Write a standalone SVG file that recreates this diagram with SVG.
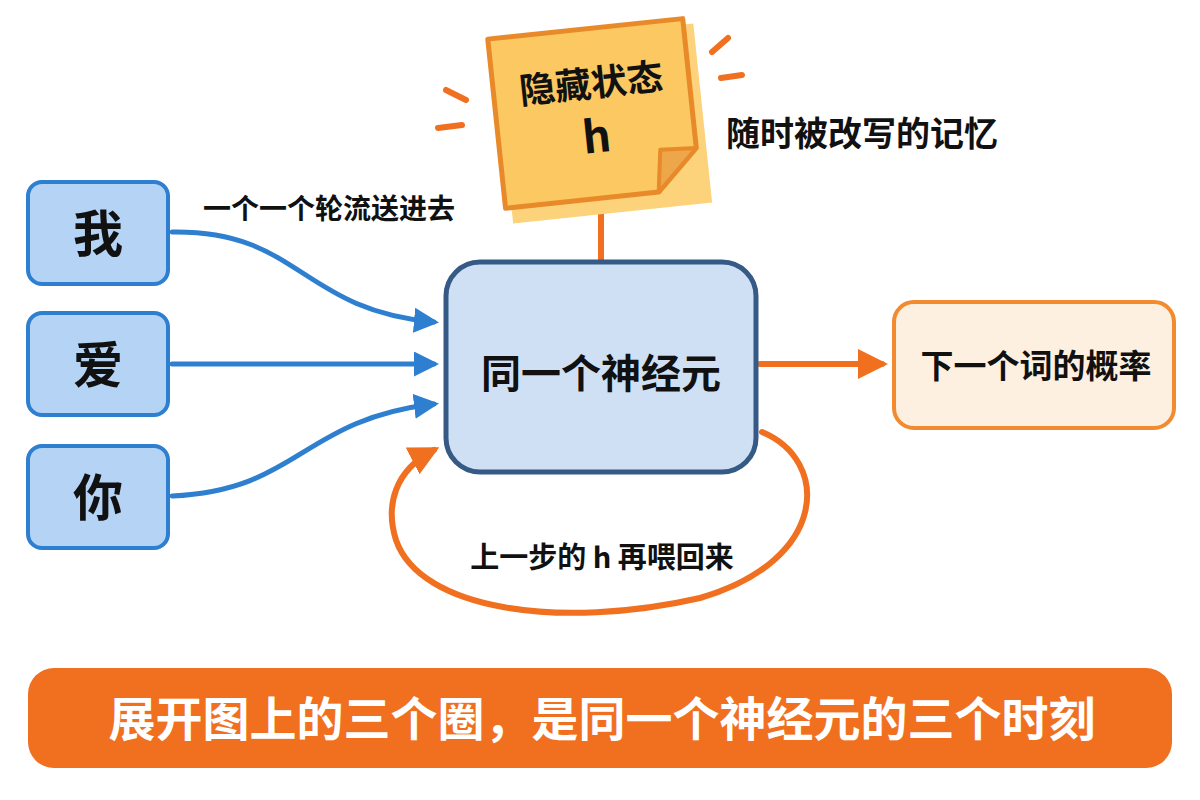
<svg xmlns="http://www.w3.org/2000/svg" width="1200" height="800" viewBox="0 0 1200 800">
<defs>
<style>
.t{font-family:"Noto Sans CJK SC","Noto Sans",sans-serif;font-weight:700;fill:#111;}
.word rect{fill:#b5d3f5;stroke:#2e7fd0;stroke-width:4;}
.blue{fill:none;stroke:#2e7fd0;stroke-width:5;stroke-linecap:round;}
.org{fill:none;stroke:#f07020;stroke-width:6;stroke-linecap:round;}
.ray{stroke:#f07020;stroke-width:6;stroke-linecap:round;}
</style>
<marker id="ab" viewBox="0 0 10 10" refX="8" refY="5" markerWidth="5" markerHeight="5" orient="auto" markerUnits="strokeWidth"><path d="M0,0 L10,5 L0,10 z" fill="#2e7fd0"/></marker>
<marker id="ao" viewBox="0 0 10 10" refX="8" refY="5" markerWidth="5" markerHeight="5" orient="auto" markerUnits="strokeWidth"><path d="M0,0 L10,5 L0,10 z" fill="#f07020"/></marker>
</defs>
<rect width="1200" height="800" fill="#ffffff"/>
<g id="connectors">
<line class="org" x1="601" y1="200" x2="601" y2="262"/>
<path class="blue" d="M172,232 C300,230 300,310 434,322" marker-end="url(#ab)"/>
<path class="blue" d="M172,364 L434,364" marker-end="url(#ab)"/>
<path class="blue" d="M172,496 C300,490 300,420 434,404" marker-end="url(#ab)"/>
<path class="org" d="M760,364 L882,364" marker-end="url(#ao)"/>
<path class="org" d="M762,432 C830,460 830,560 700,598 C560,630 420,610 396,540 C385,505 395,470 434,450" marker-end="url(#ao)"/>
</g>
<g id="n-wo" class="word"><rect x="28" y="182" width="140" height="102" rx="14"/><text class="t" x="98" y="252" font-size="50" text-anchor="middle">我</text></g>
<g id="n-ai" class="word"><rect x="28" y="313" width="140" height="102" rx="14"/><text class="t" x="98" y="383" font-size="50" text-anchor="middle">爱</text></g>
<g id="n-ni" class="word"><rect x="28" y="446" width="140" height="102" rx="14"/><text class="t" x="98" y="516" font-size="50" text-anchor="middle">你</text></g>
<text class="t" x="203" y="219" font-size="28">一个一个轮流送进去</text>
<g id="n-neuron"><rect x="446" y="262" width="310" height="210" rx="34" fill="#cfe0f5" stroke="#345a85" stroke-width="5"/><text class="t" x="601" y="388" font-size="40" text-anchor="middle">同一个神经元</text></g>
<g id="n-out"><rect x="894" y="302" width="280" height="126" rx="20" fill="#fdf0e0" stroke="#f28a30" stroke-width="4"/><text class="t" x="1036" y="378" font-size="33" text-anchor="middle">下一个词的概率</text></g>
<g id="n-hidden">
<g transform="rotate(-6 598 112)">
<rect x="502" y="34" width="200" height="180" fill="#fcd27a" stroke="none"/>
<path d="M496,28 L692,28 L692,158 L650,198 L496,198 z" fill="#fcc862" stroke="#e88a2a" stroke-width="5" stroke-linejoin="round"/>
<path d="M692,158 L656,156 L650,198 z" fill="#eda64a" stroke="#e88a2a" stroke-width="4" stroke-linejoin="round"/>
<text class="t" x="594" y="96" font-size="36" text-anchor="middle">隐藏状态</text>
<text class="t" x="594" y="152" font-size="44" text-anchor="middle">h</text>
</g>
</g>
<g id="rays">
<line class="ray" x1="446" y1="90" x2="466" y2="100"/>
<line class="ray" x1="438" y1="128" x2="462" y2="125"/>
<line class="ray" x1="712" y1="52" x2="728" y2="38"/>
<line class="ray" x1="721" y1="78" x2="742" y2="75"/>
</g>
<text class="t" x="726" y="146" font-size="34">随时被改写的记忆</text>
<text class="t" x="602" y="568" font-size="29" text-anchor="middle">上一步的 h 再喂回来</text>
<g id="n-banner"><rect x="28" y="668" width="1144" height="100" rx="26" fill="#f07020"/><text class="t" x="602" y="736" font-size="47" text-anchor="middle" style="fill:#fff">展开图上的三个圈，是同一个神经元的三个时刻</text></g>
</svg>
